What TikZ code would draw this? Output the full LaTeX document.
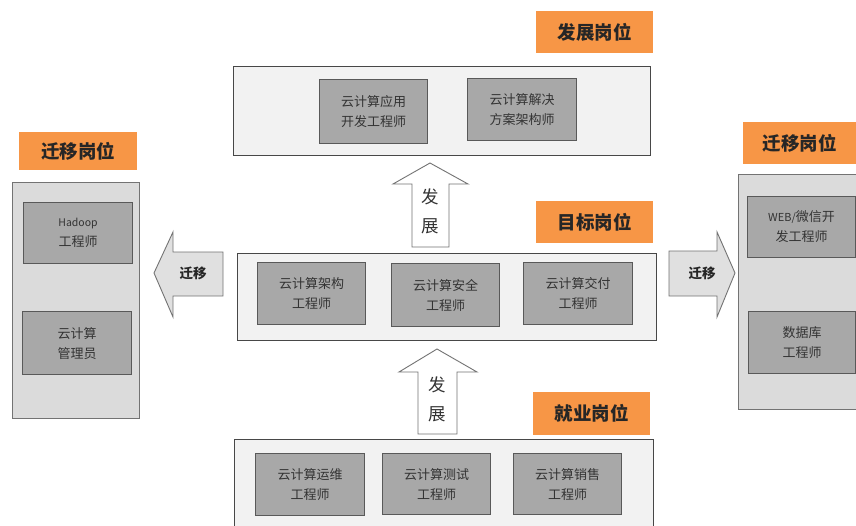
\documentclass[tikz,border=0pt]{standalone}
\usepackage{fontspec}
\newfontfamily\cjk{Noto Sans CJK SC}
\definecolor{orng}{HTML}{F79646}
\newcommand\mkbox[7]{\node[#2, anchor=north west, minimum width={#5pt-#3pt}, minimum height={#6pt-#4pt}] (#1) at (#3,#4) {#7};}
\begin{document}
\begin{tikzpicture}[x=1pt,y=-1pt,
  tag/.style={fill=orng, inner sep=0pt, font=\cjk\bfseries\fontsize{18.5}{18.5}\selectfont, text=black!85},
  panel/.style={draw=black!72, line width=1.3pt, fill=black!5, inner sep=0pt},
  sidepanel/.style={draw=black!55, line width=1pt, fill=black!14, inner sep=0pt},
  job/.style={draw=black!65, line width=1.1pt, fill=black!34, inner sep=0pt, align=center, font=\cjk\fontsize{13}{20}\selectfont, text=black!80},
  arr/.style={draw=black!55, line width=0.9pt},
  arrtxt/.style={font=\cjk\fontsize{17.5}{17.5}\selectfont, text=black!80, inner sep=0pt},
  migtxt/.style={font=\cjk\bfseries\fontsize{13.5}{13.5}\selectfont, text=black!85, inner sep=0pt}]
\clip (0,0) rectangle (856,525);
\fill[white] (0,0) rectangle (856,525);

% labels
\mkbox{ldev}{tag}{536}{11}{653}{53}{发展岗位}
\mkbox{ltgt}{tag}{536}{201}{653}{243}{目标岗位}
\mkbox{ljob}{tag}{533}{392}{650}{435}{就业岗位}
\mkbox{lmigl}{tag}{19}{132}{137}{170}{迁移岗位}
\mkbox{lmigr}{tag}{743}{122}{862}{164}{\hspace*{-6pt}迁移岗位}

% panels
\mkbox{pdev}{panel}{233}{66}{650}{155}{}
\mkbox{ptgt}{panel}{237}{253}{656}{340}{}
\mkbox{pjob}{panel}{234}{439}{653}{540}{}
\mkbox{pleft}{sidepanel}{12}{182}{139}{418}{}
\mkbox{pright}{sidepanel}{738}{174}{866}{409}{}

% jobs
\mkbox{d1}{job}{319}{79}{427}{143}{云计算应用\\开发工程师}
\mkbox{d2}{job}{467}{78}{576}{140}{云计算解决\\方案架构师}
\mkbox{t1}{job}{257}{262}{365}{324}{云计算架构\\工程师}
\mkbox{t2}{job}{391}{263}{499}{326}{云计算安全\\工程师}
\mkbox{t3}{job}{523}{262}{632}{324}{云计算交付\\工程师}
\mkbox{j1}{job}{255}{453}{364}{515}{云计算运维\\工程师}
\mkbox{j2}{job}{382}{453}{490}{514}{云计算测试\\工程师}
\mkbox{j3}{job}{513}{453}{621}{514}{云计算销售\\工程师}
\mkbox{m1}{job}{23}{202}{132}{263}{{\fontsize{10.5}{10.5}\selectfont Hadoop}\\工程师}
\mkbox{m2}{job}{22}{311}{131}{374}{云计算\\管理员}
\mkbox{m3}{job}{747}{196}{855}{257}{{\fontsize{11}{11}\selectfont WEB/}微信开\\发工程师}
\mkbox{m4}{job}{748}{311}{855}{373}{数据库\\工程师}

% block arrows
\filldraw[arr, fill=white] (430,163) -- (468,184) -- (449,184) -- (449,247) -- (412,247) -- (412,184) -- (393,184) -- cycle;
\node[arrtxt] (up1a) at (430,197) {发};
\node[arrtxt] (up1b) at (430,226) {展};
\filldraw[arr, fill=white] (437,349) -- (477,372) -- (457,372) -- (457,434) -- (418,434) -- (418,372) -- (399,372) -- cycle;
\node[arrtxt] (up2a) at (437,385) {发};
\node[arrtxt] (up2b) at (437,414) {展};
\filldraw[arr, fill=black!12] (154,273) -- (173,232) -- (173,252) -- (223,252) -- (223,296) -- (173,296) -- (173,317) -- cycle;
\node[migtxt] (migl) at (193,273) {迁移};
\filldraw[arr, fill=black!12] (735,273) -- (717,232) -- (717,251) -- (669,251) -- (669,296) -- (717,296) -- (717,317) -- cycle;
\node[migtxt] (migr) at (702,273) {迁移};
\end{tikzpicture}
\end{document}
